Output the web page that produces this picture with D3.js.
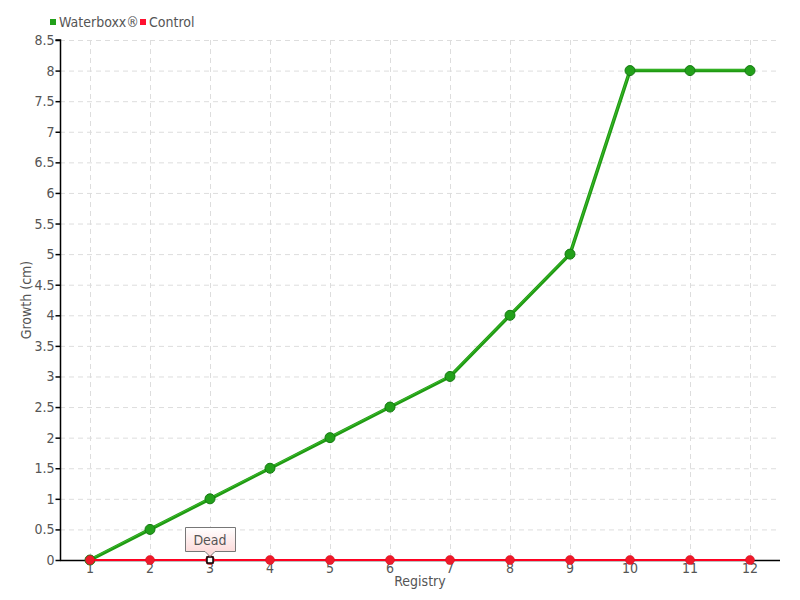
<!DOCTYPE html>
<html><head><meta charset="utf-8">
<script src="https://cdn.jsdelivr.net/npm/d3@7"></script>
<style>body{margin:0;background:#fff}svg{display:block}text{font-family:"DejaVu Sans Condensed","Liberation Sans Narrow",sans-serif;fill:#555}</style>
</head><body><svg id="c" width="800" height="600"></svg>
<script>
const categories = ["1","2","3","4","5","6","7","8","9","10","11","12"];
const waterboxx = [0,0.5,1,1.5,2,2.5,3,4,5,8,8,8];
const control = [0,0,0,0,0,0,0,0,0,0,0,0];
const yTicks = [0,0.5,1,1.5,2,2.5,3,3.5,4,4.5,5,5.5,6,6.5,7,7.5,8,8.5];
const seriesNames = ["Waterboxx®","Control"];
const annotation = {index:2, text:"Dead"};

const svg = d3.select("#c");
const L=60,R=780,T=40,B=560;
const x = d3.scaleBand().domain(categories).range([L,R]).padding(0);
const cx = d => x(d)+x.bandwidth()/2;
const y = d3.scaleLinear().domain([0,8.5]).range([B,T]);

// grid
const g = svg.append("g");
g.selectAll("line.h").data(yTicks.slice(1)).join("line")
 .attr("x1",L).attr("x2",R).attr("y1",d=>y(d)+0.5).attr("y2",d=>y(d)+0.5)
 .attr("stroke","#ddd").attr("stroke-dasharray","5,4");
g.selectAll("line.v").data(categories).join("line")
 .attr("x1",d=>Math.round(cx(d))+0.5).attr("x2",d=>Math.round(cx(d))+0.5).attr("y1",T).attr("y2",B)
 .attr("stroke","#ddd").attr("stroke-dasharray","5,4");

// y axis
const ya = svg.append("g").attr("transform",`translate(${L+0.5},0)`)
 .call(d3.axisLeft(y).tickValues(yTicks).tickSize(5).tickFormat(d=>d));
ya.select(".domain").attr("stroke","#000").attr("stroke-width",1.5).attr("d",`M-5,${T}H0V${B}`);
ya.selectAll(".tick line").attr("stroke","#000").attr("stroke-width",1.5);
ya.selectAll(".tick text").attr("x",-6).style("font-size","14px").attr("fill","#555");

// x axis
const xa = svg.append("g").attr("transform",`translate(0,${B+0.5})`)
 .call(d3.axisBottom(x).tickSize(0));
xa.select(".domain").attr("stroke","#000").attr("stroke-width",1.5).attr("d",`M${L},0H${R}`);
xa.selectAll(".tick text").attr("y",3).style("font-size","14px").attr("fill","#555");

svg.append("text").attr("x",(L+R)/2).attr("y",586).attr("text-anchor","middle").style("font-size","14px").text("Registry");
svg.append("text").attr("transform",`translate(31,${(T+B)/2}) rotate(-90)`).attr("text-anchor","middle").style("font-size","14px").text("Growth (cm)");

// lines
const line = d3.line().x((d,i)=>cx(categories[i])).y(d=>y(d));
svg.append("path").datum(waterboxx).attr("d",line).attr("fill","none").attr("stroke","#1f9a12").attr("stroke-width",3.5);
svg.append("path").datum(waterboxx).attr("d",line).attr("fill","none").attr("stroke","#3cbb2c").attr("stroke-width",1).attr("transform","translate(0,-0.8)");
svg.append("g").selectAll("circle").data(waterboxx).join("circle")
 .attr("cx",(d,i)=>cx(categories[i])).attr("cy",d=>y(d)).attr("r",5)
 .attr("fill","#22a01a").attr("stroke","#157a12").attr("stroke-width",1);

svg.append("path").datum(control).attr("d",line)
 .attr("fill","none").attr("stroke","#ff0020").attr("stroke-width",1.8);
svg.append("g").selectAll("circle").data(control).join("circle")
 .attr("cx",(d,i)=>cx(categories[i])).attr("cy",d=>y(d)).attr("r",4.5)
 .attr("fill","#ee1a2a").attr("stroke","#d01020").attr("stroke-width",0.5);

// highlighted point
const ax = cx(categories[annotation.index]), ay = y(control[annotation.index]);
svg.append("rect").attr("x",ax-3).attr("y",ay-3).attr("width",6).attr("height",6).attr("fill","#fff").attr("stroke","#000").attr("stroke-width",1.5);

// tooltip
const defs = svg.append("defs");
const gr = defs.append("linearGradient").attr("id","tg").attr("x1",0).attr("x2",0).attr("y1",0).attr("y2",1);
gr.append("stop").attr("offset","0%").attr("stop-color","#ffffff");
gr.append("stop").attr("offset","100%").attr("stop-color","#fcd4d4");
const bx=ax-24.5, by=527.5, bw=50, bh=24;
svg.append("path").attr("d",`M${bx},${by}H${bx+bw}V${by+bh}H${ax+5}L${ax},${by+bh+5}L${ax-5},${by+bh}H${bx}Z`)
 .attr("fill","url(#tg)").attr("stroke","#777").attr("stroke-width",1);
svg.append("text").attr("x",ax).attr("y",by+17).attr("text-anchor","middle").style("font-size","14px").text(annotation.text);

// legend
const lg = svg.append("g");
lg.append("rect").attr("x",50).attr("y",19).attr("width",6).attr("height",6).attr("fill","#22a01a");
lg.append("text").attr("x",59).attr("y",27).style("font-size","14px").text(seriesNames[0]);
lg.append("rect").attr("x",140).attr("y",19).attr("width",6).attr("height",6).attr("fill","#ff1030");
lg.append("text").attr("x",149).attr("y",27).style("font-size","14px").text(seriesNames[1]);
</script></body></html>
